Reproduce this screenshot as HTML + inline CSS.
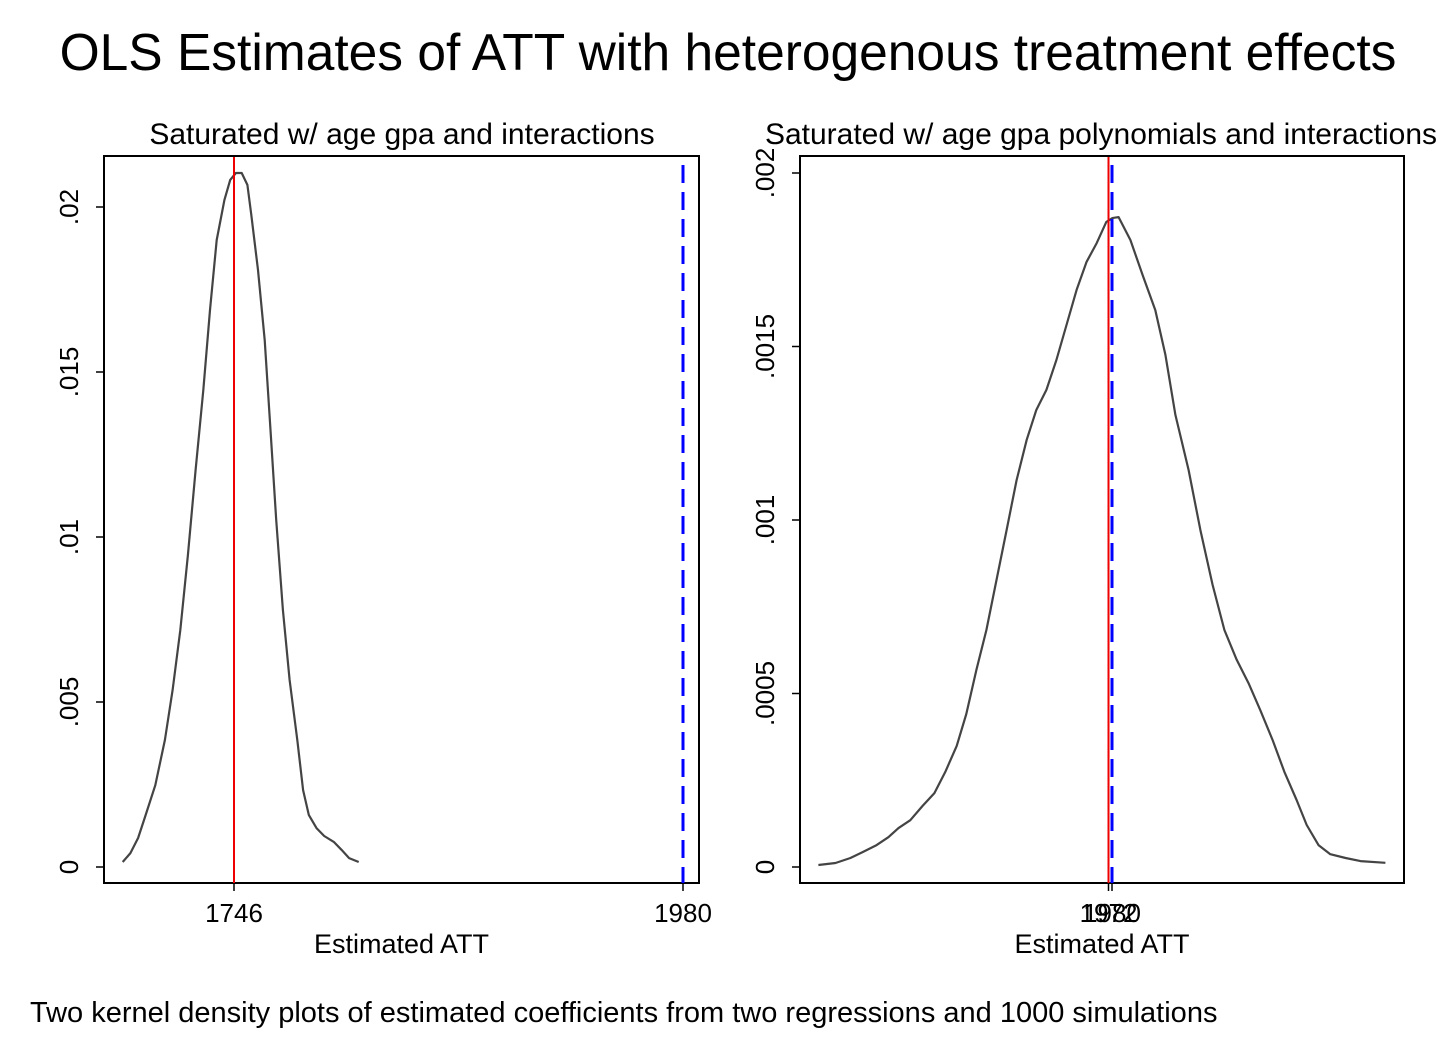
<!DOCTYPE html>
<html><head><meta charset="utf-8"><style>
body{margin:0;background:#fff;}
svg text{font-family:"Liberation Sans",Arial,sans-serif;fill:#000;}
</style></head><body>
<svg id="chart" width="1456" height="1058" xmlns="http://www.w3.org/2000/svg">
<rect width="1456" height="1058" fill="#fff"/>
<text x="728" y="70" font-size="51.5" text-anchor="middle">OLS Estimates of ATT with heterogenous treatment effects</text>
<text x="30" y="1022" font-size="29">Two kernel density plots of estimated coefficients from two regressions and 1000 simulations</text>
</svg>
<script>
// Left panel data
const leftX=[1688,1692,1696,1700,1705,1710,1714,1718,1722,1726,1730,1733.5,1737,1741,1744,1747,1750,1753,1755,1758.5,1762,1765,1768,1771.5,1775,1779,1782,1785,1789,1793,1798,1802,1806,1811];
const leftY=[.00015,.00042,.00088,.00158,.00248,.00385,.00536,.00718,.00945,.01203,.01445,.01688,.019,.02021,.02082,.02103,.02103,.02067,.01976,.01809,.01597,.01324,.01052,.00779,.00567,.00385,.00233,.00158,.00118,.00094,.00076,.00052,.00027,.00015];
const leftYTicks=[0,.005,.01,.015,.02];
const leftYLabels=["0",".005",".01",".015",".02"];
const leftXTicks=[1746,1980];
const leftRed=1746, leftBlue=1980;
// Right panel data
const rightX=[1309,1348,1382,1410,1442,1469,1492,1519,1547,1574,1599,1625,1647,1670,1693,1716,1739,1762,1785,1807,1830,1853,1876,1899,1922,1945,1967,1981,1995,2022,2050,2079,2102,2125,2155,2182,2210,2237,2265,2292,2319,2347,2374,2402,2425,2452,2479,2514,2548,2605];
const rightY=[.0000058,.0000115,.000026,.000043,.000063,.000086,.000112,.000135,.000176,.000213,.000274,.000349,.000441,.000568,.000683,.000827,.000971,.001115,.001231,.001317,.001375,.001461,.001562,.001663,.001744,.001798,.001859,.00187,.001873,.001807,.001706,.001605,.001476,.001303,.001144,.000971,.000813,.000683,.000597,.00053,.000452,.000366,.000274,.000193,.000121,.000063,.000037,.000026,.000017,.000012];
const rightYTicks=[0,.0005,.001,.0015,.002];
const rightYLabels=["0",".0005",".001",".0015",".002"];
const rightXTicks=[1972,1980];
const rightRed=1972, rightBlue=1980;

const NS="http://www.w3.org/2000/svg";
const svg=document.getElementById('chart');
function mk(tag,attrs,parent){const e=document.createElementNS(NS,tag);for(const k in attrs)e.setAttribute(k,attrs[k]);(parent||svg).appendChild(e);return e;}

function panel(cfg){
  const g=mk('g',{});
  
  
  const sx=v=>cfg.px0+(v-cfg.x0)*cfg.kx;
  const sy=v=>cfg.py0-v*cfg.ky;
  const t=mk('text',{x:cfg.titleX,y:144,'font-size':30,'text-anchor':'middle'},g);
  t.textContent=cfg.title;
  
  
  const box=mk('rect',{x:cfg.L,y:156,width:cfg.R-cfg.L,height:727,fill:'none',stroke:'#000','stroke-width':2},g);
  
  
  cfg.yt.forEach((v,i)=>{
    const y=sy(v);
    const tk=mk('line',{x1:cfg.L-8,x2:cfg.L,y1:y,y2:y,stroke:'#000','stroke-width':1.5},g);
    
    
    const lb=mk('text',{x:0,y:0,'font-size':26,'text-anchor':'middle',transform:`translate(${cfg.L-26},${y}) rotate(-90)`},g);
    lb.textContent=cfg.yl[i];
    
    
  });
  cfg.xt.forEach(v=>{
    const x=sx(v);
    const tk=mk('line',{x1:x,x2:x,y1:883,y2:891,stroke:'#000','stroke-width':1.5},g);
    
    
    const lb=mk('text',{x:x,y:922,'font-size':26,'text-anchor':'middle'},g);
    lb.textContent=String(v);
    
    
  });
  const xt=mk('text',{x:(cfg.L+cfg.R)/2,y:953,'font-size':27,'text-anchor':'middle'},g);
  xt.textContent='Estimated ATT';
  
  
  const d=cfg.xs.map((v,i)=>(i?'L':'M')+sx(v).toFixed(1)+','+sy(cfg.ys[i]).toFixed(1)).join(' ');
  const p=mk('path',{d:d,fill:'none',stroke:'#444','stroke-width':2.2,'stroke-linejoin':'round'},g);
  
  
  const r=mk('line',{x1:sx(cfg.red),x2:sx(cfg.red),y1:157,y2:883,stroke:'#e00','stroke-width':2},g);
  
  
  const b=mk('line',{x1:sx(cfg.blue),x2:sx(cfg.blue),y1:165,y2:883,stroke:'#00f','stroke-width':3,'stroke-dasharray':'18 9'},g);
  
  
}
panel({name:'left-panel',title:'Saturated w/ age gpa and interactions',titleX:402,L:104,R:699,
  x0:1746,px0:234,kx:449/234,py0:867,ky:33000,xs:leftX,ys:leftY,yt:leftYTicks,yl:leftYLabels,xt:leftXTicks,red:leftRed,blue:leftBlue});
panel({name:'right-panel',title:'Saturated w/ age gpa polynomials and interactions',titleX:1101,L:800,R:1404,
  x0:1972,px0:1108.5,kx:0.4375,py0:867,ky:347000,xs:rightX,ys:rightY,yt:rightYTicks,yl:rightYLabels,xt:rightXTicks,red:rightRed,blue:rightBlue});
</script>
</body></html>
